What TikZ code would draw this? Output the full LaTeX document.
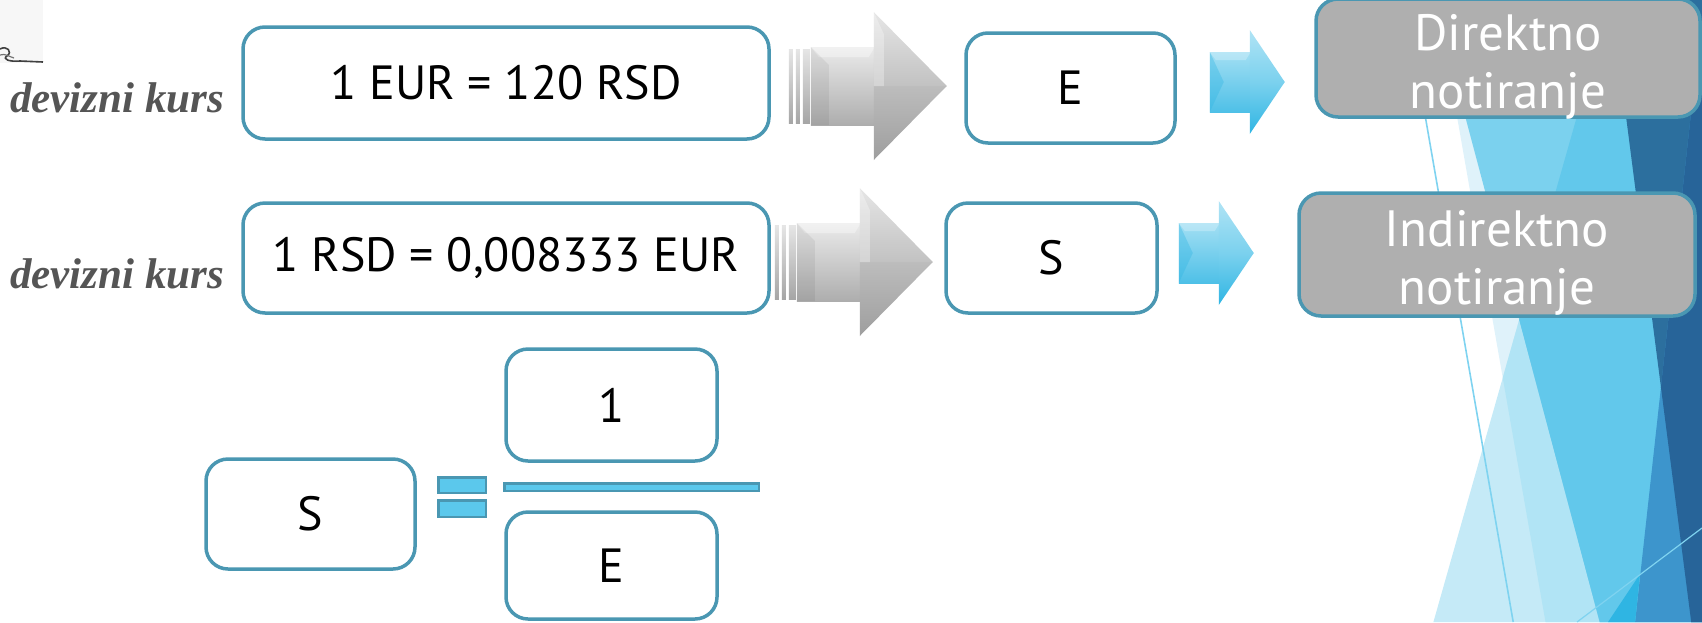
\documentclass[tikz,border=0pt]{standalone}
\usepackage{fontspec}
\setmainfont{PT Sans}
\newfontfamily\kursfont{Liberation Serif}
\usetikzlibrary{calc}
\definecolor{boxline}{HTML}{4A97B2}
\definecolor{notegray}{HTML}{AFAFAF}
\definecolor{kursgray}{HTML}{555555}
\definecolor{barfill}{HTML}{5BC8EC}
\definecolor{facetP}{HTML}{DFF2FA}
\definecolor{facetT}{HTML}{C5EAF7}
\definecolor{facetPT}{HTML}{B1E4F5}
\definecolor{facetPM}{HTML}{7BD1EE}
\definecolor{facetPMT}{HTML}{62C8EB}
\definecolor{facetD}{HTML}{2C6F9E}
\definecolor{facetE}{HTML}{3D95CC}
\definecolor{facetDE}{HTML}{276499}
\definecolor{facetBright}{HTML}{2FB5E3}
\definecolor{facetLine}{HTML}{7FD3F0}
\begin{document}
\begin{tikzpicture}[x=1pt,y=-1pt,
  boxedge/.style={draw=boxline, line width=3.5pt, rounded corners=22pt},
  valbox/.style={boxedge, fill=white, font=\fontsize{48}{56}\selectfont, text=black, inner sep=0pt},
  notebox/.style={boxedge, fill=notegray, inner sep=0pt},
  notetext/.style={font=\fontsize{51}{58}\selectfont, text=white, align=center, inner sep=0pt},
  kurs/.style={font=\kursfont\bfseries\itshape\fontsize{43}{50}\selectfont, text=kursgray, anchor=base west, inner sep=0pt},
  eqbar/.style={draw=boxline, fill=barfill, line width=2.5pt, inner sep=0pt},
  pics/grayarrow/.style={code={
    \foreach \a/\b in {0/4,7/11,14/21}{
      \shade[top color=black!10, bottom color=black!35] (\a,-37) rectangle (\b,37);
    }
    \shade[top color=black!8, bottom color=black!32] (22,-39) rectangle (86,39);
    \fill[white, opacity=0.35] (22,-39) -- (86,-39) -- (80,-29) -- (30,-29) -- cycle;
    \fill[black, opacity=0.06] (22,-39) -- (40,-21) -- (40,39) -- (22,39) -- cycle;
    \shade[top color=black!10, bottom color=black!24] (85,-74) -- (158,0) -- (85,0) -- cycle;
    \shade[top color=black!26, bottom color=black!38] (85,0) -- (158,0) -- (85,74) -- cycle;
    \fill[white, opacity=0.3] (85,-74) -- (95,-52) -- (95,0) -- (85,0) -- cycle;
  }},
  pics/bluearrow/.style={code={
    \shade[top color=facetPM!70, bottom color=facetBright!85] (0,-30) rectangle (41,30);
    \fill[white, opacity=0.25] (0,-30) -- (41,-30) -- (36,-22) -- (6,-22) -- cycle;
    \fill[facetBright, opacity=0.35] (0,-30) -- (14,0) -- (0,30) -- cycle;
    \shade[top color=facetPM!60, bottom color=facetPM] (40,-52) -- (75,0) -- (40,0) -- cycle;
    \shade[top color=facetPM, bottom color=facetBright] (40,0) -- (75,0) -- (40,52) -- cycle;
  }},
]
\useasboundingbox (0,0) rectangle (1702,622);

% ---- faceted background on the right ----
\fill[facetP] (1436.6,0) -- (1702,0) -- (1702,622) -- (1545.5,622) -- cycle;
\fill[facetT] (1610,0) -- (1702,0) -- (1702,622) -- (1433.4,622) -- cycle;
\begin{scope}
  \clip (1436.6,0) -- (1702,0) -- (1702,622) -- (1545.5,622) -- cycle;
  \fill[facetPT] (1610,0) -- (1702,0) -- (1702,622) -- (1433.4,622) -- cycle;
\end{scope}
\fill[facetPM] (1434.2,0) -- (1702,0) -- (1702,622) -- (1599.7,622) -- cycle;
\begin{scope}
  \clip (1434.2,0) -- (1702,0) -- (1702,622) -- (1599.7,622) -- cycle;
  \fill[facetPMT] (1610,0) -- (1702,0) -- (1702,622) -- (1433.4,622) -- cycle;
\end{scope}
\fill[facetD] (1611,0) -- (1702,0) -- (1702,622) -- (1691.2,622) -- cycle;
\fill[facetE] (1703.5,0) -- (1702,622) -- (1635.1,622) -- cycle;
\begin{scope}
  \clip (1611,0) -- (1702,0) -- (1702,622) -- (1691.2,622) -- cycle;
  \fill[facetDE] (1703.5,0) -- (1702,622) -- (1635.1,622) -- cycle;
\end{scope}
\fill[facetBright] (1608,622) -- (1640,574) -- (1635.1,622) -- cycle;
\draw[facetLine, line width=1.2pt] (1577,622) -- (1702,528);
\draw[facetLine, line width=1.6pt] (1405,0) -- (1513.2,622);

% ---- corner ornament ----
\fill[black!3] (0,0) rectangle (43,63);
\draw[black!75, line width=1.6pt] (0,49) .. controls (7,45) and (13,52) .. (7,56)
  .. controls (2,59) and (9,62) .. (20,61) -- (43,62);
\draw[black!55, line width=1.2pt] (0,55) .. controls (5,53) and (10,57) .. (14,58);

% ---- labels ----
\node[kurs] (k1) at (10,112) {devizni kurs};
\node[kurs] (k2) at (10,288) {devizni kurs};

% ---- value boxes ----
\node[valbox, minimum width=526pt, minimum height=112pt] (eur) at (506,83) {1 EUR = 120 RSD};
\node[valbox, minimum width=209pt, minimum height=110pt] (e) at (1070.5,88) {E};
\node[valbox, minimum width=526pt, minimum height=110pt] (rsd) at (506,258) {1 RSD = 0,008333 EUR};
\node[valbox, minimum width=211pt, minimum height=110pt] (s) at (1051.5,258) {S};

% ---- quotation boxes ----
\node[notebox, minimum width=384pt, minimum height=118pt] (dir) at (1508,58) {};
\node[notetext] (dirtext) at ($(dir.center)+(0,9)$) {Direktno\\notiranje};
\node[notebox, minimum width=396pt, minimum height=123pt] (ind) at (1497,254.5) {};
\node[notetext] (indtext) at ($(ind.center)+(0,8)$) {Indirektno\\notiranje};

% ---- block arrows ----
\pic at ($(eur.east)+(18,3)$) {grayarrow};
\pic at ($(rsd.east)+(4,4)$) {grayarrow};
\pic at ($(e.east)+(33,-6)$) {bluearrow};
\pic at ($(s.east)+(20,-5)$) {bluearrow};

% ---- S = 1 / E ----
\node[valbox, minimum width=209pt, minimum height=110pt] (sb) at (310.5,514) {S};
\node[valbox, minimum width=211pt, minimum height=112pt] (num) at (611.5,405) {1};
\node[valbox, minimum width=211pt, minimum height=107pt] (den) at (611.5,565.5) {E};
\node[eqbar, minimum width=47.5pt, minimum height=15.5pt] (eqtop) at (462,485) {};
\node[eqbar, minimum width=47.5pt, minimum height=16.5pt] (eqbot) at (462,508.5) {};
\node[eqbar, minimum width=254.5pt, minimum height=7.5pt] (frac) at (631.5,487) {};
\end{tikzpicture}
\end{document}
